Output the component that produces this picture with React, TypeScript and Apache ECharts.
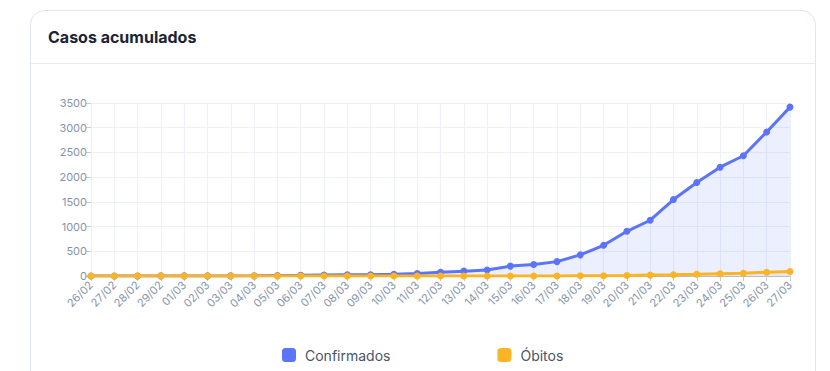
import React, { useEffect, useRef } from "react";
import * as echarts from "echarts";

const categories = [
  "26/02", "27/02", "28/02", "29/02", "01/03", "02/03", "03/03", "04/03", "05/03", "06/03",
  "07/03", "08/03", "09/03", "10/03", "11/03", "12/03", "13/03", "14/03", "15/03", "16/03",
  "17/03", "18/03", "19/03", "20/03", "21/03", "22/03", "23/03", "24/03", "25/03", "26/03", "27/03",
];
const confirmados = [
  1, 1, 1, 2, 2, 2, 2, 3, 8, 13, 19, 25, 25, 34, 52, 77, 98, 121, 200, 234, 291, 428, 621, 904,
  1128, 1546, 1891, 2201, 2433, 2915, 3417,
];
const obitos = [
  0, 0, 0, 0, 0, 0, 0, 0, 0, 0, 0, 0, 0, 0, 0, 0, 0, 0, 0, 0, 1, 4, 6, 11, 18, 25, 34, 46, 57, 77, 92,
];
const title = "Casos acumulados";

export default function App() {
  const ref = useRef<HTMLDivElement>(null);
  useEffect(() => {
    document.body.style.margin = "0";
    const chart = echarts.init(ref.current!, undefined, { renderer: "svg" });
    const font = "Inter, 'Noto Sans', sans-serif";
    chart.setOption({
      animation: false,
      textStyle: { fontFamily: font },
      graphic: [
        {
          type: "rect",
          shape: { x: 30.5, y: 10.5, width: 785, height: 420, r: 14 },
          style: { fill: "#fff", stroke: "#dce7f3", lineWidth: 1 },
          z: -10,
        },
        {
          type: "line",
          shape: { x1: 31, y1: 63.5, x2: 815, y2: 63.5 },
          style: { stroke: "#e3ecf6", lineWidth: 1 },
          z: -9,
        },
        {
          type: "text",
          x: 48,
          y: 37,
          style: {
            text: title,
            fill: "#1a2433",
            font: `bold 16px ${font}`,
            textVerticalAlign: "middle",
          },
        },
      ],
      grid: { left: 91, right: 40, top: 103, bottom: 95, containLabel: false },
      legend: {
        bottom: 4,
        left: 277,
        icon: "roundRect",
        itemWidth: 14,
        itemHeight: 14,
        itemGap: 107,
        textStyle: { color: "#4a5466", fontSize: 14, fontFamily: font, padding: [0, 0, 0, 4] },
        data: ["Confirmados", "Óbitos"],
      },
      xAxis: {
        type: "category",
        data: categories,
        boundaryGap: false,
        axisLine: { lineStyle: { color: "#b9bec6" } },
        axisTick: { show: true, lineStyle: { color: "#c5ccd6" } },
        axisLabel: { rotate: 45, color: "#8694ab", fontSize: 11, margin: 7, interval: 0 },
        splitLine: { show: true, lineStyle: { color: "#edf1f7" } },
      },
      yAxis: {
        type: "value",
        min: 0,
        max: 3500,
        interval: 500,
        axisLine: { show: false },
        axisTick: { show: true, length: 5, lineStyle: { color: "#c5ccd6" } },
        axisLabel: { color: "#8694ab", fontSize: 11, margin: 4, formatter: (v: number) => String(v) },
        splitLine: { show: true, lineStyle: { color: "#edf1f7" } },
      },
      series: [
        {
          name: "Confirmados",
          type: "line",
          data: confirmados,
          color: "#5b74f8",
          symbol: "circle",
          symbolSize: 7,
          lineStyle: { width: 3 },
          areaStyle: { color: "rgba(91,116,248,0.16)" },
          z: 3,
        },
        {
          name: "Óbitos",
          type: "line",
          data: obitos,
          color: "#fbb423",
          symbol: "circle",
          symbolSize: 7,
          lineStyle: { width: 3 },
          areaStyle: { color: "rgba(200,200,200,0.3)" },
          z: 4,
        },
      ],
    });
    return () => chart.dispose();
  }, []);
  return <div ref={ref} style={{ width: 830, height: 371 }} />;
}
